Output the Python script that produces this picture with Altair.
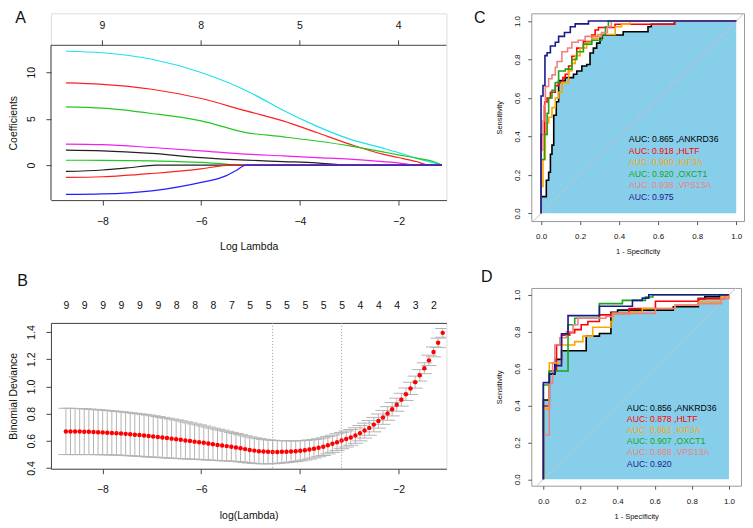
import json
import altair as alt
import pandas as pd

FONT = "Liberation Sans"

# ---------------- Panel A: LASSO coefficient paths ----------------
A_lam_cyan = [-8.74, -8.0, -7.0, -6.0, -5.0, -4.34, -3.66, -2.99, -2.32, -2.01, -1.64, -1.12]
A_coef_cyan = [12.26, 12.1, 11.4, 9.97, 7.8, 5.9, 4.2, 2.8, 1.83, 1.36, 0.75, 0.0]
A_lam_red1 = [-8.74, -8.0, -7.0, -6.0, -5.09, -4.34, -3.66, -2.99, -2.32, -2.01, -1.64, -1.38, -1.12]
A_coef_red1 = [8.85, 8.7, 8.17, 7.17, 5.84, 4.77, 3.51, 2.26, 1.18, 0.82, 0.39, 0.0, 0.0]
A_lam_green1 = [-8.74, -8.0, -7.0, -6.0, -5.09, -4.34, -3.66, -2.99, -2.32, -2.01, -1.64, -1.24, -1.12]
A_coef_green1 = [6.27, 6.13, 5.56, 4.77, 3.51, 3.05, 2.6, 2.08, 1.43, 1.11, 0.75, 0.29, 0.0]
A_lam_magenta = [-8.74, -8.0, -7.0, -6.0, -5.09, -4.34, -3.66, -2.99, -2.32, -2.01, -1.64, -1.12]
A_coef_magenta = [2.26, 2.2, 1.9, 1.54, 1.18, 1.0, 0.82, 0.65, 0.39, 0.25, 0.0, 0.0]
A_lam_black1 = [-8.74, -8.0, -7.0, -6.0, -5.09, -4.34, -3.66, -3.0, -1.12]
A_coef_black1 = [1.61, 1.54, 1.26, 0.82, 0.54, 0.39, 0.25, 0.0, 0.0]
A_lam_green2 = [-8.74, -8.0, -7.0, -6.0, -5.5, -5.2, -1.12]
A_coef_green2 = [0.53, 0.52, 0.45, 0.29, 0.12, 0.0, 0.0]
A_lam_black2 = [-8.74, -8.0, -7.5, -6.9, -1.12]
A_coef_black2 = [-0.68, -0.52, -0.3, 0.0, 0.0]
A_lam_red2 = [-8.74, -8.0, -7.0, -6.0, -5.41, -1.12]
A_coef_red2 = [-1.32, -1.25, -0.9, -0.4, 0.0, 0.0]
A_lam_blue = [-8.74, -8.0, -7.0, -6.0, -5.5, -5.3, -5.09, -1.12]
A_coef_blue = [-3.15, -3.1, -2.76, -1.86, -1.15, -0.6, 0.0, 0.0]

A_top_vals = [-8, -6, -4, -2]
A_top_labels = ["9", "8", "5", "4"]

# ---------------- Panel B: cross-validation deviance ----------------
lamB = [-8.740, -8.647, -8.554, -8.461, -8.368, -8.275, -8.181, -8.088, -7.995, -7.902,
        -7.809, -7.716, -7.623, -7.530, -7.437, -7.344, -7.250, -7.157, -7.064, -6.971,
        -6.878, -6.785, -6.692, -6.599, -6.506, -6.413, -6.319, -6.226, -6.133, -6.040,
        -5.947, -5.854, -5.761, -5.668, -5.575, -5.482, -5.388, -5.295, -5.202, -5.109,
        -5.016, -4.923, -4.830, -4.737, -4.644, -4.551, -4.457, -4.364, -4.271, -4.178,
        -4.085, -3.992, -3.899, -3.806, -3.713, -3.620, -3.526, -3.433, -3.340, -3.247,
        -3.154, -3.061, -2.968, -2.875, -2.782, -2.689, -2.595, -2.502, -2.409, -2.316,
        -2.223, -2.130, -2.037, -1.944, -1.851, -1.758, -1.664, -1.571, -1.478, -1.385,
        -1.292, -1.199, -1.106]
devB = [0.669, 0.669, 0.668, 0.668, 0.667, 0.666, 0.665, 0.663, 0.662, 0.660,
        0.658, 0.656, 0.654, 0.651, 0.648, 0.645, 0.642, 0.639, 0.635, 0.632,
        0.628, 0.624, 0.620, 0.616, 0.612, 0.608, 0.603, 0.599, 0.594, 0.590,
        0.585, 0.580, 0.575, 0.570, 0.566, 0.561, 0.556, 0.551, 0.545, 0.539,
        0.533, 0.528, 0.524, 0.521, 0.519, 0.518, 0.518, 0.519, 0.520, 0.522,
        0.524, 0.527, 0.531, 0.536, 0.542, 0.549, 0.557, 0.568, 0.578, 0.590,
        0.602, 0.613, 0.625, 0.639, 0.656, 0.675, 0.695, 0.719, 0.745, 0.772,
        0.801, 0.832, 0.865, 0.902, 0.942, 0.985, 1.031, 1.081, 1.133, 1.191,
        1.253, 1.320, 1.393]
seB = [0.170, 0.170, 0.169, 0.169, 0.168, 0.167, 0.166, 0.165, 0.164, 0.163,
       0.162, 0.161, 0.160, 0.159, 0.158, 0.157, 0.156, 0.155, 0.154, 0.152,
       0.150, 0.148, 0.146, 0.144, 0.142, 0.139, 0.136, 0.133, 0.130, 0.127,
       0.124, 0.121, 0.118, 0.115, 0.112, 0.109, 0.106, 0.103, 0.100, 0.098,
       0.096, 0.094, 0.092, 0.090, 0.088, 0.086, 0.084, 0.082, 0.080, 0.078,
       0.076, 0.074, 0.072, 0.070, 0.068, 0.066, 0.065, 0.064, 0.063, 0.062,
       0.060, 0.059, 0.058, 0.057, 0.056, 0.055, 0.054, 0.053, 0.052, 0.051,
       0.050, 0.049, 0.048, 0.047, 0.046, 0.045, 0.044, 0.042, 0.040, 0.038,
       0.036, 0.034, 0.032]
B_vlines = [-4.551, -3.154]
B_top_vals = [-8.740, -8.368, -7.995, -7.623, -7.250, -6.878, -6.506, -6.133, -5.761, -5.388,
              -5.016, -4.644, -4.271, -3.899, -3.526, -3.154, -2.782, -2.409, -2.037, -1.664, -1.292]
B_top_labels = ["9", "9", "9", "9", "9", "9", "8", "8", "8", "7",
                "5", "5", "5", "5", "5", "5", "4", "4", "4", "3", "2"]

# ---------------- Panels C and D: ROC step curves (corner points, fpr, tpr) ----------------
genes = ["ANKRD36", "HLTF", "KIF3A", "OXCT1", "VPS13A", "Combined"]
gene_colors = ["#000000", "#FF0000", "#FFA500", "#1AA51A", "#F08080", "#1A1A8C"]

C_ANKRD36 = [(0, 0), (0, .087), (.027, .172), (.039, .214), (.048, .307), (.056, .355), (.065, .51),
             (.078, .58), (.09, .69), (.124, .706), (.166, .723), (.183, .74), (.209, .766), (.234, .774),
             (.251, .834), (.268, .859), (.285, .885), (.302, .91), (.314, .927), (.421, .944),
             (.548, .97), (.565, .983), (.684, 1), (1, 1)]
C_HLTF = [(0, 0), (0, .41), (.019, .579), (.031, .6), (.048, .63), (.073, .664), (.09, .681), (.112, .706),
          (.124, .723), (.141, .766), (.158, .817), (.183, .859), (.217, .893), (.26, .927), (.277, .953),
          (.294, .966), (.379, .983), (.684, 1), (1, 1)]
C_KIF3A = [(0, 0), (0, .14), (.01, .28), (.022, .41), (.031, .47), (.039, .5), (.056, .55), (.073, .6),
           (.09, .63), (.107, .68), (.141, .74), (.158, .78), (.175, .82), (.2, .86), (.234, .89),
           (.26, .91), (.29, .93), (.38, .97), (.413, .983), (.455, 1), (1, 1)]
C_OXCT1 = [(0, 0), (0, .28), (.017, .41), (.031, .52), (.039, .6), (.056, .64), (.073, .68), (.09, .74),
           (.124, .75), (.158, .8), (.183, .84), (.217, .88), (.26, .9), (.31, .93), (.33, .97),
           (.345, 1), (1, 1)]
C_VPS13A = [(0, 0), (0, .33), (.01, .48), (.015, .56), (.022, .66), (.039, .7), (.056, .72), (.073, .76),
            (.082, .79), (.107, .84), (.136, .86), (.158, .89), (.19, .9), (.226, .92), (.31, .94),
            (.34, .97), (.36, 1), (1, 1)]
C_Combined = [(0, 0), (0, .61), (.01, .665), (.02, .82), (.031, .835), (.048, .87), (.073, .89),
              (.09, .92), (.12, .94), (.15, .97), (.175, .985), (.243, 1), (1, 1)]
C_auc = [0.865, 0.918, 0.900, 0.920, 0.938, 0.975]

D_ANKRD36 = [(0, 0), (0, .43), (.032, .57), (.062, .65), (.098, .697), (.231, .776), (.302, .79),
             (.364, .905), (.4, .917), (.70, .935), (.835, .979), (.87, .99), (.95, 1), (1, 1)]
D_HLTF = [(0, 0), (0, .397), (.032, .587), (.071, .728), (.098, .781), (.142, .794), (.169, .811),
          (.204, .838), (.24, .855), (.302, .891), (.364, .899), (.462, .926), (.604, .965),
          (.835, .979), (.977, 1), (1, 1)]
D_KIF3A = [(0, 0), (0, .38), (.032, .63), (.098, .728), (.169, .746), (.213, .776), (.266, .824),
           (.364, .855), (.373, .899), (.47, .908), (.533, .926), (.71, .944), (.835, .961),
           (.959, .988), (1, 1)]
D_OXCT1 = [(0, 0), (0, .511), (.032, .587), (.133, .838), (.169, .873), (.302, .952), (.426, .97),
           (.55, .988), (.59, 1), (1, 1)]
D_VPS13A = [(0, 0), (0, .24), (.032, .52), (.05, .63), (.062, .728), (.089, .767), (.124, .799),
            (.16, .838), (.186, .873), (.337, .882), (.373, .899), (.604, .926), (.71, .944),
            (.835, .952), (.959, .979), (1, 1)]
D_Combined = [(0, 0), (0, .524), (.032, .573), (.062, .616), (.098, .788), (.133, .887), (.302, .938),
              (.48, .97), (.533, .982), (.568, 1), (1, 1)]
D_auc = [0.856, 0.878, 0.862, 0.907, 0.868, 0.920]

roc_ticks = [0.0, 0.2, 0.4, 0.6, 0.8, 1.0]
diag_pts = [-0.1, 1.1]

# ---------------- layout / style constants ----------------
XDOM_AB = [-9.043, -1.031]
A_BOX = [-3.76, 12.9]          # framed region of panel A
YDOM_A = [-3.76, 16.34]        # plot region incl. space for the top (df) labels
A_TICK_LEN = 0.54              # outward top tick length, in coefficient units (~5px)
A_TOP_LABEL_Y = 14.94          # top df-label position, in coefficient units
YDOM_B = [0.395, 1.466]
CAP_HALF = 0.153
AUC_TEXT_X = 0.45
AUC_TEXT_Y0 = 0.385
AUC_TEXT_STEP = 0.06
AXC = "#444444"

common = dict(grid=False, labelFont=FONT, titleFont=FONT, titleFontWeight="normal",
              labelColor="#111111", titleColor="#111111", labelFlush=False, labelOverlap=False)


def lookup_expr(vals, labels):
    return f"{json.dumps(labels)}[indexof({json.dumps(vals)}, datum.value)]"


def ab_bottom(title):
    return alt.Axis(orient="bottom", title=title, values=[-8, -6, -4, -2], format="d",
                    tickSize=5, labelPadding=11, titlePadding=15, labelFontSize=10.5,
                    titleFontSize=10.5, domainColor=AXC, tickColor=AXC, **common)


def ab_left(title, vals, fmt, **extra):
    return alt.Axis(orient="left", title=title, values=vals, format=fmt, tickSize=5,
                    labelPadding=9, titlePadding=8, labelAngle=270, labelAlign="center",
                    labelBaseline="bottom", labelFontSize=10.5, titleFontSize=10.5,
                    domainColor=AXC, tickColor=AXC, **common, **extra)


def letter_top(letter, vals, labels, tick, pad, tx, ty, **extra):
    return alt.Axis(orient="top", values=vals, labelExpr=lookup_expr(vals, labels),
                    ticks=tick > 0, tickSize=tick, labelPadding=pad, labelFontSize=10.5,
                    title=letter, titleX=tx, titleY=ty, titleAngle=0, titleAlign="center",
                    titleBaseline="middle", titleFontSize=16, domainColor=AXC, tickColor=AXC,
                    **common, **extra)


def letter_only(letter, tx, ty):
    return alt.Axis(orient="top", labels=False, ticks=False, domain=False, title=letter,
                    titleX=tx, titleY=ty, titleAngle=0, titleAlign="center",
                    titleBaseline="middle", titleFontSize=16, titleFont=FONT,
                    titleFontWeight="normal", titleColor="#111111", grid=False)


# ---------------- build Panel A ----------------
A_curves = [
    ("cyan", "#1EE0EE", A_lam_cyan, A_coef_cyan),
    ("red1", "#FF2020", A_lam_red1, A_coef_red1),
    ("green1", "#22C822", A_lam_green1, A_coef_green1),
    ("magenta", "#F020F0", A_lam_magenta, A_coef_magenta),
    ("black1", "#222222", A_lam_black1, A_coef_black1),
    ("green2", "#22C822", A_lam_green2, A_coef_green2),
    ("black2", "#222222", A_lam_black2, A_coef_black2),
    ("red2", "#FF2020", A_lam_red2, A_coef_red2),
    ("blue", "#2020FF", A_lam_blue, A_coef_blue),
]
rowsA = []
for name, col, lams, coefs in A_curves:
    for l, c in zip(lams, coefs):
        rowsA.append({"curve": name, "col": col, "lam": l, "coef": c})
dfA = pd.DataFrame(rowsA)
A_H = 187
box_center = (YDOM_A[1] - (A_BOX[0] + A_BOX[1]) / 2) / (YDOM_A[1] - YDOM_A[0]) * A_H
box_top_px = (YDOM_A[1] - A_BOX[1]) / (YDOM_A[1] - YDOM_A[0]) * A_H
yA_axis = ab_left("Coefficients", [0, 5, 10], "d", domain=False, titleY=box_center)
xsA = alt.Scale(domain=XDOM_AB, nice=False, zero=False)
ysA = alt.Scale(domain=YDOM_A, nice=False, zero=False)
xA_bottom = ab_bottom("Log Lambda")


def A_layer(names, xaxis):
    return alt.Chart(dfA[dfA["curve"].isin(names)]).mark_line(
        interpolate="monotone", strokeWidth=1.2, clip=True).encode(
        x=alt.X("lam:Q", scale=xsA, axis=xaxis),
        y=alt.Y("coef:Q", scale=ysA, axis=yA_axis),
        color=alt.Color("col:N", scale=None),
        detail="curve:N",
        order=alt.Order("lam:Q"),
    )


A_left_edge = alt.Chart(pd.DataFrame({"lo": [A_BOX[0]], "hi": [A_BOX[1]]})).mark_rule(
    color=AXC, strokeWidth=1).encode(
    x=alt.X(datum=XDOM_AB[0], scale=xsA, axis=xA_bottom),
    y=alt.Y("lo:Q", scale=ysA, axis=yA_axis), y2="hi:Q")
A_top_edge = alt.Chart(pd.DataFrame({"x0": [XDOM_AB[0]], "x1": [XDOM_AB[1]], "yt": [A_BOX[1]]})).mark_rule(
    color=AXC, strokeWidth=1).encode(
    x=alt.X("x0:Q", scale=xsA, axis=xA_bottom), x2="x1:Q",
    y=alt.Y("yt:Q", scale=ysA, axis=yA_axis))
dfA_top = pd.DataFrame({"v": A_top_vals, "lab": A_top_labels})
dfA_top["t0"] = A_BOX[1]
dfA_top["t1"] = A_BOX[1] + A_TICK_LEN
dfA_top["ly"] = A_TOP_LABEL_Y
A_top_ticks = alt.Chart(dfA_top).mark_rule(color=AXC, strokeWidth=1).encode(
    x=alt.X("v:Q", scale=xsA, axis=xA_bottom),
    y=alt.Y("t0:Q", scale=ysA, axis=yA_axis), y2="t1:Q")
A_top_text = alt.Chart(dfA_top).mark_text(fontSize=10.5, font=FONT, color="#111111",
                                          baseline="middle", align="center").encode(
    x=alt.X("v:Q", scale=xsA, axis=xA_bottom),
    y=alt.Y("ly:Q", scale=ysA, axis=yA_axis), text="lab:N")
A1 = alt.layer(A_layer(["cyan", "red1", "green1", "magenta", "black1"], xA_bottom),
               A_left_edge, A_top_edge, A_top_ticks, A_top_text)
A2 = A_layer(["green2", "black2", "red2", "blue"],
             letter_only("A", -31, box_top_px - 28))
panelA = alt.layer(A1, A2).resolve_scale(x="independent").properties(width=396, height=A_H)

# ---------------- build Panel B ----------------
dfB = pd.DataFrame({"lam": lamB, "dev": devB, "se": seB})
dfB["lo"] = dfB["dev"] - dfB["se"]
dfB["hi"] = dfB["dev"] + dfB["se"]
dfB["c0"] = dfB["lam"] - CAP_HALF
dfB["c1"] = dfB["lam"] + CAP_HALF
xsB = alt.Scale(domain=XDOM_AB, nice=False, zero=False)
ysB = alt.Scale(domain=YDOM_B, nice=False, zero=False)
xB_axis = ab_bottom("log(Lambda)")
yB_axis = ab_left("Binomial Deviance", [0.4, 0.6, 0.8, 1.0, 1.2, 1.4], ".1f")
baseB = alt.Chart(dfB)
bars = baseB.mark_rule(color="#B4B4B4", strokeWidth=1, clip=True).encode(
    x=alt.X("lam:Q", scale=xsB, axis=xB_axis), y=alt.Y("lo:Q", scale=ysB, axis=yB_axis), y2="hi:Q")
cap_hi = baseB.mark_rule(color="#B4B4B4", strokeWidth=1, clip=True).encode(
    x=alt.X("c0:Q", scale=xsB, axis=xB_axis), x2="c1:Q", y=alt.Y("hi:Q", scale=ysB, axis=yB_axis))
cap_lo = baseB.mark_rule(color="#B4B4B4", strokeWidth=1, clip=True).encode(
    x=alt.X("c0:Q", scale=xsB, axis=xB_axis), x2="c1:Q", y=alt.Y("lo:Q", scale=ysB, axis=yB_axis))
pts = baseB.mark_circle(size=20, color="#FF0000", opacity=1).encode(
    x=alt.X("lam:Q", scale=xsB, axis=xB_axis), y=alt.Y("dev:Q", scale=ysB, axis=yB_axis))
B1 = alt.layer(bars, cap_hi, cap_lo, pts)
B2 = alt.Chart(pd.DataFrame({"v": B_vlines})).mark_rule(
    color="#999999", strokeDash=[1, 2], strokeWidth=1).encode(
    x=alt.X("v:Q", scale=xsB,
            axis=letter_top("B", B_top_vals, B_top_labels, 0, 12, -29, -42)))
panelB = alt.layer(B1, B2).resolve_scale(x="independent").properties(width=396, height=146)


# ---------------- build Panels C / D ----------------
def roc_panel(curves, aucs, letter, width, height, xdom, ydom, tx, ty):
    rows = []
    for g, c, pts_ in zip(genes, gene_colors, curves):
        for i, (f, t) in enumerate(pts_):
            rows.append({"gene": g, "col": c, "idx": i, "fpr": f, "tpr": t, "zero": 0.0})
    df = pd.DataFrame(rows)
    fill_df = df[(df["gene"] == genes[0]) & (df["idx"] >= 1)]
    labels = []
    for i, (g, c, a) in enumerate(zip(genes, gene_colors, aucs)):
        txt = f"AUC: {a:.3f}" if g == "Combined" else f"AUC: {a:.3f} ,{g}"
        labels.append({"gene": g, "col": c, "text": txt, "tx": AUC_TEXT_X,
                       "ty": AUC_TEXT_Y0 - AUC_TEXT_STEP * i})
    tdf = pd.DataFrame(labels)

    xs = alt.Scale(domain=xdom, nice=False, zero=False)
    ys = alt.Scale(domain=ydom, nice=False, zero=False)
    xaxis = alt.Axis(orient="bottom", title="1 - Specificity", values=roc_ticks, format=".1f",
                     tickSize=3.5, labelPadding=8, titlePadding=7, labelFontSize=8,
                     titleFontSize=7.5, domain=False, tickColor="#555555", **common)
    yaxis = alt.Axis(orient="left", title="Sensitivity", values=roc_ticks, format=".1f",
                     tickSize=3.5, labelPadding=6, titlePadding=10, labelAngle=270,
                     labelAlign="center", labelBaseline="bottom", labelFontSize=8,
                     titleFontSize=7.5, domain=False, tickColor="#555555", **common)

    area = alt.Chart(fill_df).mark_area(color="#87CEEB", interpolate="step-after", opacity=1).encode(
        x=alt.X("fpr:Q", scale=xs, axis=xaxis), y=alt.Y("tpr:Q", scale=ys, axis=yaxis),
        y2="zero:Q")
    diag = alt.Chart(pd.DataFrame({"d": diag_pts})).mark_line(
        color="#C4C4C4", strokeWidth=1, clip=True).encode(
        x=alt.X("d:Q", scale=xs, axis=letter_only(letter, tx, ty)),
        y=alt.Y("d:Q", scale=ys, axis=yaxis))
    lines = alt.Chart(df).mark_line(interpolate="step-after", strokeWidth=1.6, clip=True).encode(
        x=alt.X("fpr:Q", scale=xs, axis=None), y=alt.Y("tpr:Q", scale=ys, axis=yaxis),
        color=alt.Color("col:N", scale=None), detail="gene:N", order=alt.Order("idx:Q"))
    texts = alt.Chart(tdf).mark_text(align="left", baseline="middle", fontSize=8.7, font=FONT).encode(
        x=alt.X("tx:Q", scale=xs, axis=None), y=alt.Y("ty:Q", scale=ys, axis=yaxis),
        text="text:N", color=alt.Color("col:N", scale=None))
    return alt.layer(area, diag, alt.layer(lines, texts)).resolve_scale(x="independent").properties(
        width=width, height=height, view=alt.ViewBackground(stroke="#9A9A9A", strokeWidth=1))


panelC = roc_panel([C_ANKRD36, C_HLTF, C_KIF3A, C_OXCT1, C_VPS13A, C_Combined], C_auc, "C",
                   213, 208, [-0.05, 1.04], [-0.04, 1.04], -52, 4)
panelD = roc_panel([D_ANKRD36, D_HLTF, D_KIF3A, D_OXCT1, D_VPS13A, D_Combined], D_auc, "D",
                   210, 198, [-0.065, 1.065], [-0.035, 1.037], -45, -11)

left = alt.vconcat(panelA, panelB, spacing=19)
right = alt.vconcat(panelC, panelD, spacing=12)
chart = alt.hconcat(left, right, spacing=25).properties(
    padding={"left": 0, "top": 0, "right": 0, "bottom": 0}
).configure_view(strokeWidth=0).configure(background="white")

chart.save("out.html", embed_options={"renderer": "svg", "actions": False})
